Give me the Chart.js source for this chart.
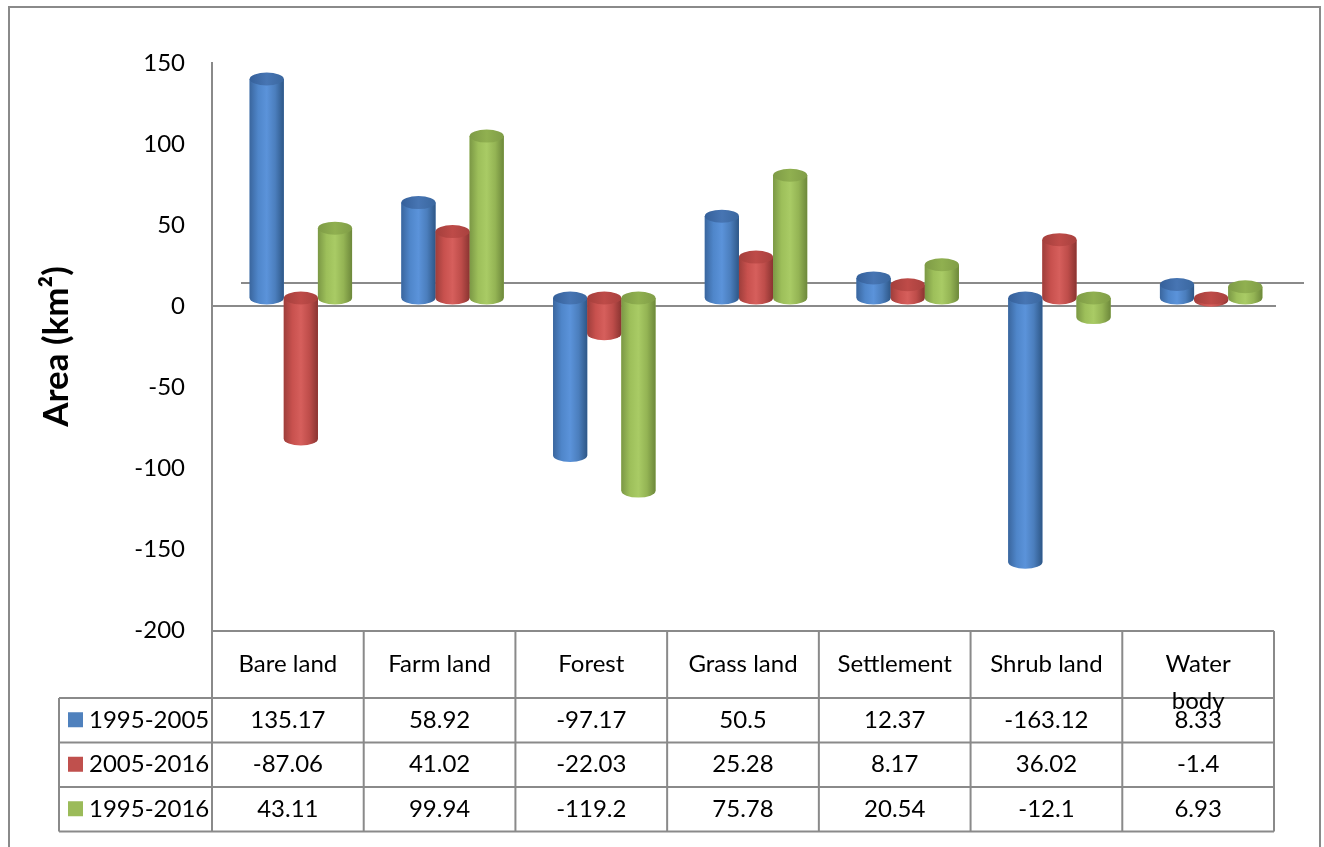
<!DOCTYPE html>
<html>
<head>
<meta charset="utf-8">
<title>Land cover change</title>
<script src="https://cdn.jsdelivr.net/npm/chart.js@4/dist/chart.umd.min.js"></script>
<style>
  html, body { margin: 0; padding: 0; background: #ffffff; }
  #wrap { position: relative; width: 1324px; height: 847px; }
</style>
</head>
<body>
<div id="wrap"><canvas id="chart" width="1324" height="847"></canvas></div>
<script>
// Land cover change per class (km²)
const categories = ['Bare land', 'Farm land', 'Forest', 'Grass land', 'Settlement', 'Shrub land', ['Water', 'body']];
const seriesNames = ['1995-2005', '2005-2016', '1995-2016'];
const change1995to2005 = [135.17, 58.92, -97.17, 50.5, 12.37, -163.12, 8.33];
const change2005to2016 = [-87.06, 41.02, -22.03, 25.28, 8.17, 36.02, -1.4];
const change1995to2016 = [43.11, 99.94, -119.2, 75.78, 20.54, -12.1, 6.93];
const yTicks = [150, 100, 50, 0, -50, -100, -150, -200];
const axisTitle = 'Area (km²)';

const seriesValues = [change1995to2005, change2005to2016, change1995to2016];
const seriesColors = ['#4F81BD', '#C0504D', '#9BBB59'];

// cylinder shading: body stops left→right, cap colours
const shading = [
  { body: ['#3A669E', '#4F86CA', '#5B93DA', '#4B7EBD', '#2E5787'], cap: ['#35609A', '#4775B3', '#3A679F'] },
  { body: ['#9E3E3B', '#C8514E', '#D65F5C', '#BE4D4A', '#8A3431'], cap: ['#A43F3C', '#BE4B48', '#A8413E'] },
  { body: ['#7B9845', '#9DBF5A', '#A9CB65', '#94B454', '#6D883B'], cap: ['#7E9B46', '#90B050', '#809D47'] }
];

const depthShift = { x: 13, y: -8 };   // bars sit half-way into the floor depth
const floorBack = { x: 29, y: -23 };   // back edge of the floor
const lineColor = '#8A8A8A';
const textFont = 'Lato, "Open Sans", sans-serif';

function drawCylinder(ctx, el, shade) {
  const p = el.getProps(['x', 'y', 'base', 'width'], true);
  const rx = p.width / 2;
  const ry = Math.max(3, p.width * 0.19);
  const left = p.x - rx, right = p.x + rx;
  const top = Math.min(p.y, p.base), bot = Math.max(p.y, p.base);

  const g = ctx.createLinearGradient(left, 0, right, 0);
  shade.body.forEach((c, i, a) => g.addColorStop(i / (a.length - 1), c));
  ctx.beginPath();
  ctx.moveTo(left, top);
  ctx.lineTo(left, bot);
  ctx.ellipse(p.x, bot, rx, ry, 0, Math.PI, 0, true);
  ctx.lineTo(right, top);
  ctx.closePath();
  ctx.fillStyle = g;
  ctx.fill();

  const cg = ctx.createLinearGradient(left, top, right, top);
  shade.cap.forEach((c, i, a) => cg.addColorStop(i / (a.length - 1), c));
  ctx.beginPath();
  ctx.ellipse(p.x, top, rx, ry, 0, 0, Math.PI * 2);
  ctx.fillStyle = cg;
  ctx.fill();
}

const framePlugin = {
  id: 'frame',
  beforeDraw(chart) {
    const ctx = chart.ctx;
    ctx.save();
    ctx.fillStyle = '#ffffff';
    ctx.fillRect(0, 0, chart.width, chart.height);
    ctx.strokeStyle = lineColor;
    ctx.lineWidth = 2;
    ctx.strokeRect(9, 7, 1311, 880);
    ctx.restore();
  }
};

const floorPlugin = {
  id: 'floor',
  beforeDatasetsDraw(chart) {
    const { ctx, chartArea, scales } = chart;
    const y0 = scales.y.getPixelForValue(0);
    ctx.save();
    ctx.strokeStyle = lineColor;
    ctx.lineWidth = 2;
    ctx.beginPath();
    ctx.moveTo(chartArea.left + floorBack.x, y0 + floorBack.y);
    ctx.lineTo(chartArea.right + floorBack.x + 1, y0 + floorBack.y);
    ctx.moveTo(chartArea.left - 1, y0);
    ctx.lineTo(chartArea.right + 2, y0);
    ctx.stroke();
    ctx.restore();
    ctx.save();
    ctx.translate(depthShift.x, depthShift.y);
  },
  afterDatasetsDraw(chart) {
    const ctx = chart.ctx;
    chart.data.datasets.forEach((ds, i) => {
      const meta = chart.getDatasetMeta(i);
      meta.data.forEach(el => drawCylinder(ctx, el, shading[i]));
    });
    ctx.restore();
  }
};

const tablePlugin = {
  id: 'dataTable',
  afterDraw(chart) {
    const { ctx, chartArea, scales } = chart;
    const x = scales.x;
    const n = categories.length;
    const catW = (chartArea.right - chartArea.left) / n;
    const top = chartArea.bottom + 1;
    const headerBottom = top + 67;
    const rowH = 44.5;
    const rowsBottom = headerBottom + rowH * seriesNames.length;
    const legendLeft = 59;

    ctx.save();
    ctx.strokeStyle = lineColor;
    ctx.lineWidth = 2;
    ctx.beginPath();
    ctx.moveTo(chartArea.left, top);
    ctx.lineTo(chartArea.right, top);
    for (let r = 0; r <= seriesNames.length; r++) {
      const yy = headerBottom + r * rowH;
      ctx.moveTo(legendLeft, yy);
      ctx.lineTo(chartArea.right, yy);
    }
    for (let c = 0; c <= n; c++) {
      const xx = chartArea.left + c * catW;
      ctx.moveTo(xx, top);
      ctx.lineTo(xx, rowsBottom);
    }
    ctx.moveTo(legendLeft, headerBottom);
    ctx.lineTo(legendLeft, rowsBottom);
    ctx.stroke();

    ctx.fillStyle = '#000000';
    ctx.font = '24px ' + textFont;
    ctx.textAlign = 'center';
    ctx.textBaseline = 'middle';
    const headerMid = (top + headerBottom) / 2;
    categories.forEach((label, i) => {
      const cx = x.getPixelForValue(i);
      const lines = Array.isArray(label) ? label : [label];
      lines.forEach((line, k) => ctx.fillText(line, cx, headerMid + k * 37));
    });

    seriesNames.forEach((name, r) => {
      const cy = headerBottom + rowH * (r + 0.5);
      ctx.fillStyle = seriesColors[r];
      ctx.fillRect(68, cy - 8, 15, 15);
      ctx.fillStyle = '#000000';
      ctx.textAlign = 'left';
      ctx.fillText(name, 89, cy);
      ctx.textAlign = 'center';
      seriesValues[r].forEach((v, i) => {
        ctx.fillText(String(v), x.getPixelForValue(i), cy);
      });
    });
    ctx.restore();
  }
};

new Chart(document.getElementById('chart'), {
  type: 'bar',
  data: {
    labels: categories,
    datasets: seriesNames.map((name, i) => ({
      label: name,
      data: seriesValues[i],
      backgroundColor: seriesColors[i],
      borderWidth: 0,
      categoryPercentage: 0.675,
      barPercentage: 1
    }))
  },
  options: {
    responsive: false,
    animation: false,
    devicePixelRatio: 1,
    layout: { padding: { left: 0, top: 63, right: 50, bottom: 217 } },
    plugins: {
      legend: { display: false },
      tooltip: { enabled: false },
      title: { display: false }
    },
    scales: {
      x: { display: false },
      y: {
        min: -200,
        max: 150,
        afterBuildTicks: s => { s.ticks = yTicks.map(v => ({ value: v })); },
        afterFit: s => { s.width = 212; },
        grid: { display: false, drawTicks: false },
        border: { display: true, color: lineColor, width: 2 },
        ticks: {
          color: '#000000',
          padding: 27,
          font: { family: textFont, size: 24 }
        },
        title: {
          display: true,
          text: axisTitle,
          color: '#000000',
          font: { family: textFont, size: 35, weight: 'bold' },
          padding: { top: 36, bottom: 0 }
        }
      }
    }
  },
  plugins: [framePlugin, floorPlugin, tablePlugin]
});
</script>
</body>
</html>
